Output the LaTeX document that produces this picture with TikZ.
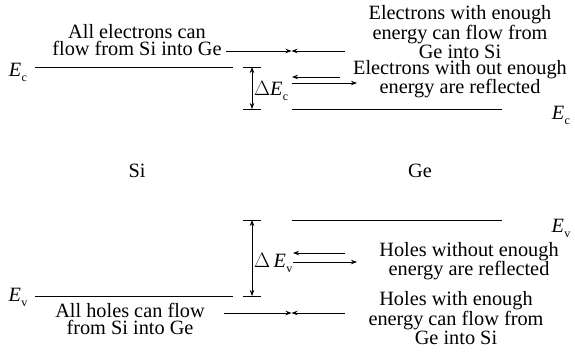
\documentclass[tikz,border=0pt]{standalone}
\usepackage{fontspec}
\setmainfont{Liberation Serif}
\usetikzlibrary{arrows.meta,positioning}

\newcommand{\lbl}{\fontsize{20.3}{17.8}\selectfont}
\newcommand{\Eband}[1]{\textit{E}\kern0.3pt\raisebox{-0.55ex}{\fontsize{12}{12}\selectfont #1}}

\begin{document}
\begin{tikzpicture}[x=1pt,y=-1pt,font=\lbl,
    level/.style={line width=0.8pt},
    flow/.style={line width=0.8pt,-{Stealth[length=6pt,width=4.5pt]}},
    gap/.style={line width=0.8pt,{Stealth[length=6pt,width=4.5pt]}-{Stealth[length=6pt,width=4.5pt]}},
    txt/.style={align=center,inner sep=0pt}]
    \useasboundingbox (0,0) rectangle (575,351);

    % Band edges
    \coordinate (siCa) at (35,67);   \coordinate (siCb) at (233,67);
    \coordinate (geCa) at (292,109); \coordinate (geCb) at (502,109);
    \coordinate (geVa) at (292,220); \coordinate (geVb) at (502,220);
    \coordinate (siVa) at (35,296);  \coordinate (siVb) at (233,296);
    \draw[level] (siCa) -- (siCb);
    \draw[level] (geCa) -- (geCb);
    \draw[level] (geVa) -- (geVb);
    \draw[level] (siVa) -- (siVb);

    \node (ecSi) at (18,72) {\Eband{c}};
    \node (ecGe) at (561,115) {\Eband{c}};
    \node (evGe) at (561,228) {\Eband{v}};
    \node (evSi) at (18,297) {\Eband{v}};

    % Band offsets
    \coordinate (dcTop) at (252,67);  \coordinate (dcBot) at (252,109);
    \coordinate (dvTop) at (252,220); \coordinate (dvBot) at (252,296);
    \foreach \p in {dcTop,dcBot,dvTop,dvBot}
        \draw[level] ([xshift=-9pt]\p) -- ([xshift=9pt]\p);
    \draw[gap] (dcTop) -- (dcBot);
    \draw[gap] (dvTop) -- (dvBot);
    \node[anchor=west,inner sep=0pt] (dEc) at (254,91) {$\Delta$\Eband{c}};
    \node[anchor=west,inner sep=0pt] (dEv) at (254,263) {$\Delta$\,\Eband{v}};

    % Materials
    \node (si) at (137,171) {Si};
    \node (ge) at (420,171) {Ge};

    % Electrons
    \node[txt] (elecSi) at (137,40) {All electrons can\\flow from Si into Ge};
    \node[txt] (elecGe) at (460,32) {Electrons with enough\\energy can flow from\\Ge into Si};
    \node[txt] (elecRef) at (460,79) {Electrons with out enough\\energy are reflected};
    \coordinate (cMeet) at (291.5,51);
    \coordinate (cFromSi) at (226,51);
    \coordinate (cFromGe) at (345,51);
    \draw[flow] (cFromSi) -- (cMeet);
    \draw[flow] (cFromGe) -- (cMeet);
    \coordinate (cInA) at (340,77);  \coordinate (cInB) at (292,77);
    \coordinate (cOutA) at (292,83); \coordinate (cOutB) at (357,83);
    \draw[flow] (cInA) -- (cInB);
    \draw[flow] (cOutA) -- (cOutB);

    % Holes
    \node[txt] (holeRef) at (469,261) {Holes without enough\\energy are reflected};
    \node[txt] (holeSi) at (130,319) {All holes can flow\\from Si into Ge};
    \node[txt] (holeGe) at (456,318) {Holes with enough\\energy can flow from\\Ge into Si};
    \coordinate (vInA) at (345,253);  \coordinate (vInB) at (293,253);
    \coordinate (vOutA) at (293,262); \coordinate (vOutB) at (357,262);
    \draw[flow] (vInA) -- (vInB);
    \draw[flow] (vOutA) -- (vOutB);
    \coordinate (vMeet) at (291.5,313);
    \coordinate (vFromSi) at (224,313);
    \coordinate (vFromGe) at (345,313);
    \draw[flow] (vFromSi) -- (vMeet);
    \draw[flow] (vFromGe) -- (vMeet);
\end{tikzpicture}
\end{document}
